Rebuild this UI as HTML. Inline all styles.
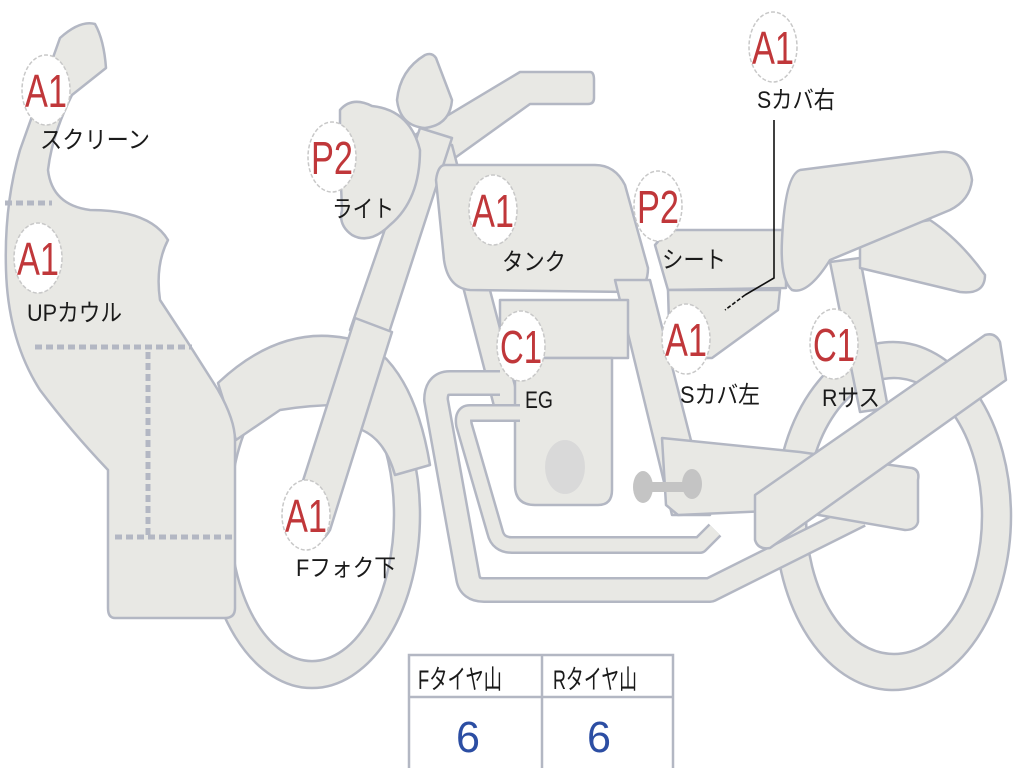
<!DOCTYPE html>
<html><head><meta charset="utf-8"><style>
html,body{margin:0;padding:0;background:#fff;width:1024px;height:768px;overflow:hidden}
svg{display:block}
.p{fill:#e8e8e4;stroke:#b3b7c3;stroke-width:2.5;stroke-linejoin:round}
.c{fill:#fff;stroke:#c8c8c8;stroke-width:1.5;stroke-dasharray:4 2}
.r{fill:#c0373a;font-family:"Liberation Sans",sans-serif;font-size:46px}
.l{fill:#1a1a1a;font-family:"Liberation Sans","Noto Sans CJK JP",sans-serif;font-size:24px}
.d{stroke:#b3b7c3;stroke-width:5;stroke-dasharray:7 4;fill:none}
</style></head><body>
<svg width="1024" height="768" viewBox="0 0 1024 768">
<path class="p" fill-rule="evenodd" d="M204,515 a108,173 0 1,0 216,0 a108,173 0 1,0 -216,0 Z M230,515 a82,146 0 1,0 164,0 a82,146 0 1,0 -164,0 Z"/>
<path class="p" fill-rule="evenodd" d="M775,516 a118,174 0 1,0 236,0 a118,174 0 1,0 -236,0 Z M806,516 a88,138 0 1,0 176,0 a88,138 0 1,0 -176,0 Z"/>
<path class="p" d="M218,383 Q290,315 370,345 Q415,375 430,465 L395,475 Q385,440 362,430 L340,405 Q310,405 280,410 L236,440 Z"/>
<path class="p" d="M415,135 L520,72 L590,72 Q594,72 594,80 L594,98 Q594,104 588,104 L530,104 L452,160 Z"/>
<path class="p" d="M425,140 L452,145 L520,405 L495,410 Z"/>
<path class="p" d="M420,128 L452,138 L385,345 L350,330 Z"/>
<path class="p" d="M355,318 L392,332 L330,530 Q318,550 300,542 Q286,535 292,515 Z"/>
<path class="p" d="M397,100 Q400,70 425,55 Q432,52 436,58 L452,100 Q450,125 425,128 Q400,126 397,100 Z"/>
<path class="p" d="M340,110 Q352,96 372,106 Q410,110 420,150 Q420,200 390,225 Q370,245 352,235 Q338,225 342,210 L340,160 Z"/>
<path class="p" d="M445,165 L595,165 Q615,165 625,185 L648,268 Q648,290 630,292 L470,290 Q448,288 444,260 L436,180 Q438,165 445,165 Z"/>
<path class="p" d="M615,280 L650,280 L710,515 L672,515 Z"/>
<path class="p" d="M668,230 L782,230 Q788,232 786,240 L786,288 L668,290 L655,245 Z"/>
<path class="p" d="M668,290 L780,290 L778,310 L712,358 L670,358 Z"/>
<path class="p" d="M830,262 L860,258 L888,408 L860,412 Z"/>
<path class="p" d="M860,232 L930,220 Q960,240 985,275 Q985,295 960,292 L860,268 Z"/>
<path class="p" d="M800,170 L940,152 Q968,150 972,180 Q970,200 950,210 L830,260 Q808,295 792,290 Q780,280 782,240 Q785,175 800,170 Z"/>
<path class="p" d="M500,300 L628,300 L628,358 L500,358 Z"/>
<path class="p" d="M515,358 L612,358 L612,490 Q612,505 598,505 L535,505 Q515,505 515,485 Z"/>
<ellipse cx="565" cy="467" rx="20" ry="27" fill="#d9d9d9"/>
<path d="M500,383 L450,383 Q436,383 436,400 L468,578 Q470,590 484,590 L710,590 L860,515" fill="none" stroke="#b3b7c3" stroke-width="26" stroke-linejoin="round"/>
<path d="M500,383 L450,383 Q436,383 436,400 L468,578 Q470,590 484,590 L710,590 L860,515" fill="none" stroke="#e8e8e4" stroke-width="21" stroke-linejoin="round"/>
<path d="M520,413 L470,413 Q462,413 464,425 L495,532 Q498,545 512,545 L700,545 L715,530" fill="none" stroke="#b3b7c3" stroke-width="18" stroke-linejoin="round"/>
<path d="M520,413 L470,413 Q462,413 464,425 L495,532 Q498,545 512,545 L700,545 L715,530" fill="none" stroke="#e8e8e4" stroke-width="13" stroke-linejoin="round"/>
<path class="p" d="M662,438 L800,452 L912,468 Q920,470 918,480 L918,522 Q916,530 905,530 L790,510 L678,515 L666,505 Z"/>
<rect x="636" y="482" width="58" height="10" fill="#c4c4c4"/>
<ellipse cx="643" cy="487" rx="10" ry="16" fill="#c4c4c4"/>
<ellipse cx="692" cy="484" rx="10" ry="15" fill="#c4c4c4"/>
<path class="p" d="M755,495 L985,335 Q995,332 1000,342 L1006,380 L770,548 Q758,550 755,540 Z"/>
<path class="p" d="M60,38 Q80,20 95,24 Q104,40 106,68 L72,95 Q52,135 48,170 Q52,205 90,210 Q150,210 168,240 Q155,265 160,300 Q190,345 218,390 Q235,420 235,440 L235,608 Q235,618 225,618 L115,618 Q108,618 108,608 L108,470 Q70,430 40,390 Q8,340 6,270 Q4,205 20,150 Z"/>
<path class="d" d="M5,203 L52,203"/>
<path class="d" d="M35,347 L192,347"/>
<path class="d" d="M148,352 L148,535"/>
<path class="d" d="M115,537 L235,537"/>
<path d="M774,120 L774,278 L745,295" stroke="#111" stroke-width="1.6" fill="none"/>
<path d="M745,295 L725,310" stroke="#111" stroke-width="1.6" stroke-dasharray="4 2" fill="none"/>
<g>
<ellipse class="c" cx="46" cy="90" rx="24" ry="35"/><text class="r" x="46" y="107" text-anchor="middle" textLength="42" lengthAdjust="spacingAndGlyphs">A1</text>
<ellipse class="c" cx="38" cy="258" rx="24" ry="35"/><text class="r" x="38" y="275" text-anchor="middle" textLength="42" lengthAdjust="spacingAndGlyphs">A1</text>
<ellipse class="c" cx="332" cy="157" rx="24" ry="35"/><text class="r" x="332" y="174" text-anchor="middle" textLength="42" lengthAdjust="spacingAndGlyphs">P2</text>
<ellipse class="c" cx="493" cy="210" rx="24" ry="35"/><text class="r" x="493" y="227" text-anchor="middle" textLength="42" lengthAdjust="spacingAndGlyphs">A1</text>
<ellipse class="c" cx="658" cy="206" rx="24" ry="35"/><text class="r" x="658" y="223" text-anchor="middle" textLength="42" lengthAdjust="spacingAndGlyphs">P2</text>
<ellipse class="c" cx="773" cy="47" rx="24" ry="35"/><text class="r" x="773" y="64" text-anchor="middle" textLength="42" lengthAdjust="spacingAndGlyphs">A1</text>
<ellipse class="c" cx="686" cy="339" rx="24" ry="35"/><text class="r" x="686" y="356" text-anchor="middle" textLength="42" lengthAdjust="spacingAndGlyphs">A1</text>
<ellipse class="c" cx="521" cy="346" rx="24" ry="35"/><text class="r" x="521" y="363" text-anchor="middle" textLength="42" lengthAdjust="spacingAndGlyphs">C1</text>
<ellipse class="c" cx="834" cy="344" rx="24" ry="35"/><text class="r" x="834" y="361" text-anchor="middle" textLength="42" lengthAdjust="spacingAndGlyphs">C1</text>
<ellipse class="c" cx="306" cy="515" rx="24" ry="35"/><text class="r" x="306" y="532" text-anchor="middle" textLength="42" lengthAdjust="spacingAndGlyphs">A1</text>
</g>
<g>
<text class="l" x="40" y="148" textLength="110" lengthAdjust="spacingAndGlyphs">スクリーン</text>
<text class="l" x="27" y="321" textLength="95" lengthAdjust="spacingAndGlyphs">UPカウル</text>
<text class="l" x="332" y="217" textLength="62" lengthAdjust="spacingAndGlyphs">ライト</text>
<text class="l" x="502" y="270" textLength="64" lengthAdjust="spacingAndGlyphs">タンク</text>
<text class="l" x="662" y="268" textLength="64" lengthAdjust="spacingAndGlyphs">シート</text>
<text class="l" x="757" y="108" textLength="78" lengthAdjust="spacingAndGlyphs">Sカバ右</text>
<text class="l" x="680" y="403" textLength="80" lengthAdjust="spacingAndGlyphs">Sカバ左</text>
<text class="l" x="525" y="408" textLength="28" lengthAdjust="spacingAndGlyphs">EG</text>
<text class="l" x="822" y="406" textLength="58" lengthAdjust="spacingAndGlyphs">Rサス</text>
<text class="l" x="296" y="576" textLength="100" lengthAdjust="spacingAndGlyphs">Fフォク下</text>
</g>
<rect x="409" y="655" width="264" height="115" fill="#fff" stroke="#b3b7c3" stroke-width="2.5"/>
<line x1="409" y1="697" x2="673" y2="697" stroke="#b3b7c3" stroke-width="2.5"/>
<line x1="542" y1="655" x2="542" y2="768" stroke="#b3b7c3" stroke-width="2.5"/>
<text class="l" x="418" y="689" font-size="27" style="font-size:27px" textLength="84" lengthAdjust="spacingAndGlyphs">Fタイヤ山</text>
<text class="l" x="553" y="689" style="font-size:27px" textLength="84" lengthAdjust="spacingAndGlyphs">Rタイヤ山</text>
<text x="468" y="752" text-anchor="middle" fill="#2c4ea3" font-family="Liberation Sans,sans-serif" font-size="44" textLength="24" lengthAdjust="spacingAndGlyphs">6</text>
<text x="599" y="752" text-anchor="middle" fill="#2c4ea3" font-family="Liberation Sans,sans-serif" font-size="44" textLength="24" lengthAdjust="spacingAndGlyphs">6</text>
</svg>
</body></html>
